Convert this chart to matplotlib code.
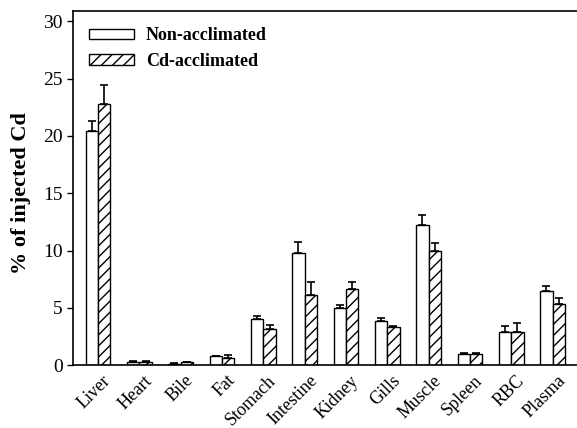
import numpy as np
import matplotlib
matplotlib.use("Agg")
import matplotlib.pyplot as plt

plt.rcParams['font.family'] = ['Liberation Serif', 'DejaVu Serif']
plt.rcParams['hatch.linewidth'] = 1.0

organs = ['Liver', 'Heart', 'Bile', 'Fat', 'Stomach', 'Intestine', 'Kidney',
          'Gills', 'Muscle', 'Spleen', 'RBC', 'Plasma']
non_acc = [20.45, 0.3, 0.1, 0.78, 4.06, 9.8, 5.0, 3.85, 12.2, 0.98, 2.93, 6.5]
non_acc_err = [0.85, 0.05, 0.05, 0.05, 0.23, 0.95, 0.28, 0.25, 0.93, 0.06, 0.5, 0.37]
cd_acc = [22.8, 0.3, 0.25, 0.64, 3.13, 6.15, 6.67, 3.33, 10.0, 0.98, 2.93, 5.3]
cd_acc_err = [1.65, 0.05, 0.05, 0.23, 0.4, 1.1, 0.57, 0.07, 0.67, 0.07, 0.72, 0.55]

fig = plt.figure(figsize=(5.77, 4.28), dpi=100)
ax = fig.add_axes([0.1265, 0.147, 0.8735, 0.827])

x = np.arange(len(organs))
w = 0.30
ax.bar(x - w / 2, non_acc, w, color='white', edgecolor='black', linewidth=1.0,
       label='Non-acclimated', zorder=2)
ax.bar(x + w / 2, cd_acc, w, color='white', edgecolor='black', linewidth=1.0,
       hatch='///', label='Cd-acclimated', zorder=2)
ax.errorbar(x - w / 2, non_acc, yerr=[np.zeros(len(x)), non_acc_err], fmt='none',
            ecolor='black', elinewidth=1.2, capsize=3, capthick=1.2, zorder=3)
ax.errorbar(x + w / 2, cd_acc, yerr=[np.zeros(len(x)), cd_acc_err], fmt='none',
            ecolor='black', elinewidth=1.2, capsize=3, capthick=1.2, zorder=3)

ax.set_xlim(-0.605, 11.59)
ax.set_ylim(0, 30.9)
ax.set_yticks([0, 5, 10, 15, 20, 25, 30])
ax.set_xticks(x + 0.1)
ax.set_xticklabels(organs, rotation=45, ha='right', rotation_mode='anchor', fontsize=13)
ax.tick_params(axis='x', length=0, pad=5)
ax.tick_params(axis='y', direction='out', length=4, width=1, labelsize=14)
ax.spines['right'].set_visible(False)
for s in ['left', 'bottom', 'top']:
    ax.spines[s].set_linewidth(1.2)

ax.set_ylabel('% of injected Cd', fontsize=16, fontweight='bold')
ax.yaxis.set_label_coords(-0.083, 0.485)

ax.legend(loc='upper left', bbox_to_anchor=(0.0, 1.0), frameon=False,
          prop={'weight': 'bold', 'size': 13}, handlelength=2.5, handleheight=0.55,
          handletextpad=0.65, labelspacing=0.45, borderaxespad=0.5)

fig.savefig('out.png', dpi=100)
